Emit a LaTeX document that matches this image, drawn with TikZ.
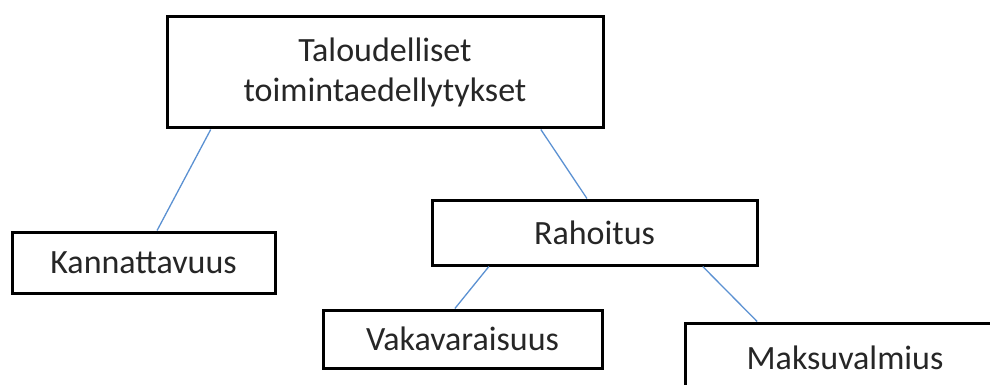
\documentclass[tikz,border=0pt]{standalone}
\usepackage{fontspec}
\setmainfont{Carlito}
\usepackage{tikz}
\usetikzlibrary{calc}

\definecolor{linkblue}{RGB}{91,145,210}

\tikzset{
    box/.style={draw=black, line width=3pt, fill=white, align=center,
        inner sep=0pt, text=black!85,
        font=\fontsize{34}{40}\selectfont},
    link/.style={draw=linkblue, line width=1.3pt}
}

\begin{document}
\begin{tikzpicture}[x=1pt, y=-1pt]
    % Page frame
    \useasboundingbox (0,0) rectangle (990,385);
    \clip (0,0) rectangle (990,385);

    % Boxes
    \node[box, minimum width=436pt, minimum height=111pt] (talous) at (385,72.5)
        {Taloudelliset\\toimintaedellytykset};
    \node[box, minimum width=263pt, minimum height=61pt] (kannatt) at (143.5,262.5)
        {Kannattavuus};
    \node[box, minimum width=325pt, minimum height=65pt] (rahoitus) at (594.5,232.5)
        {Rahoitus};
    \node[box, minimum width=279pt, minimum height=58pt] (vakava) at (462.5,339)
        {Vakavaraisuus};
    \node[box, minimum width=320pt, minimum height=70pt] (maksu) at (845,358)
        {Maksuvalmius};

    % Connecting lines
    \draw[link] ($(talous.south west)!0.103!(talous.south east)$)
        -- ($(kannatt.north west)!0.551!(kannatt.north east)$);
    \draw[link] ($(talous.south west)!0.855!(talous.south east)$)
        -- ($(rahoitus.north west)!0.477!(rahoitus.north east)$);
    \draw[link] ($(rahoitus.south west)!0.178!(rahoitus.south east)$)
        -- ($(vakava.north west)!0.473!(vakava.north east)$);
    \draw[link] ($(rahoitus.south west)!0.83!(rahoitus.south east)$)
        -- ($(maksu.north west)!0.228!(maksu.north east)$);
\end{tikzpicture}
\end{document}
